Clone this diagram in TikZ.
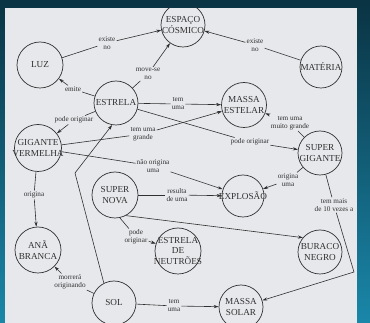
\documentclass[tikz,border=0pt]{standalone}
\usepackage{fontspec}
\setmainfont{Liberation Serif}
\usepackage{tikz}
\usetikzlibrary{arrows.meta}
\definecolor{paper}{HTML}{E7E8EC}
\definecolor{ink}{HTML}{303030}
\definecolor{frametop}{HTML}{0A3343}
\definecolor{framebot}{HTML}{1A87A9}
\tikzset{
  /tikz/.cd,
  concept/.style={circle,draw=ink,line width=.7pt,minimum size=44pt,inner sep=0pt},
  ctext/.style={text=ink,align=center,inner sep=0pt,font=\fontsize{9.2}{10.5}\selectfont}
}

\begin{document}
\begin{tikzpicture}[x=1pt,y=-1pt,
    link/.style={draw=ink,line width=.6pt},
    arr/.style={link,-{Stealth[length=5pt,width=3.2pt]}},
    lbl/.style={text=ink,align=center,inner sep=1pt,font=\fontsize{7.2}{8}\selectfont}]
  \useasboundingbox (0,0) rectangle (370,323);
  \shade[top color=frametop,bottom color=framebot] (0,0) rectangle (370,323);
  \fill[paper] (5,8) rectangle (357,323);

  \begin{scope}
  \clip (5,8) rectangle (357,323);
  % concepts
  \node[concept,label={[ctext]center:ESPAÇO\\CÓSMICO}] (espaco) at (183,25) {};
  \node[concept,minimum size=46pt,label={[ctext]center:LUZ}] (luz) at (40,65) {};
  \node[concept,minimum size=42pt,label={[ctext]center:MATÉRIA}] (materia) at (321,67) {};
  \node[concept,label={[ctext]center:ESTRELA}] (estrela) at (116,103) {};
  \node[concept,minimum size=45pt,label={[ctext]center:MASSA\\ESTELAR}] (massaE) at (244,105) {};
  \node[concept,minimum size=47pt,label={[ctext]center:GIGANTE\\VERMELHA}] (gigante) at (38,148) {};
  \node[concept,label={[ctext]center:SUPER\\GIGANTE}] (superG) at (320,153) {};
  \node[concept,minimum size=46pt,label={[ctext]center:SUPER\\NOVA}] (superN) at (115,195) {};
  \node[concept,minimum size=42pt,label={[ctext]center:EXPLOSÃO}] (explosao) at (243,196) {};
  \node[concept,minimum size=46pt,label={[ctext]center:ESTRELA\\DE\\NEUTRÕES}] (neutroes) at (178,251) {};
  \node[concept,label={[ctext]center:BURACO\\NEGRO}] (buraco) at (320,252) {};
  \node[concept,minimum size=46pt,label={[ctext]center:ANÃ\\BRANCA}] (ana) at (38,250) {};
  \node[concept,label={[ctext]center:SOL}] (sol) at (114,303) {};
  \node[concept,label={[ctext]center:MASSA\\SOLAR}] (massaS) at (241,307) {};

  % link words
  \node[lbl] (l1) at (107,43) {existe\\no};
  \node[lbl] (l2) at (255,45) {existe\\no};
  \node[lbl] (l3) at (148,74) {move-se\\no};
  \node[lbl] (l4) at (73,89) {emite};
  \node[lbl] (l5) at (178,104) {tem\\uma};
  \node[lbl] (l6) at (74,120) {pode originar};
  \node[lbl] (l7) at (143,134) {tem uma\\grande};
  \node[lbl] (l8) at (250,142) {pode originar};
  \node[lbl] (l9) at (290,123) {tem uma\\muito grande};
  \node[lbl] (l10) at (153,166) {não origina\\uma};
  \node[lbl] (l11) at (288,180) {origina\\uma};
  \node[lbl] (l12) at (177,195) {resulta\\de uma};
  \node[lbl] (l13) at (34,195) {origina};
  \node[lbl] (l14) at (136,237) {pode\\originar};
  \node[lbl] (l16) at (334,205) {tem mais\\de 10 vezes a};
  \node[lbl] (l18) at (70,282) {morrerá\\originando};
  \node[lbl] (l19) at (174,306) {tem\\uma};
  \coordinate (k1) at (354,272);
  \coordinate (k2) at (75,173);

  % links
  \draw[link] (luz) -- (l1); \draw[arr] (l1) -- (espaco);
  \draw[link] (materia) -- (l2); \draw[arr] (l2) -- (espaco);
  \draw[link] (estrela) -- (l3); \draw[arr] (l3) -- (espaco);
  \draw[link] (estrela) -- (l4); \draw[arr] (l4) -- (luz);
  \draw[link] (estrela) -- (l5); \draw[arr] (l5) -- (massaE);
  \draw[link] (estrela) -- (l6); \draw[arr] (l6) -- (gigante);
  \draw[link] (gigante) -- (l7); \draw[arr] (l7) -- (massaE);
  \draw[link] (estrela) -- (l8); \draw[arr] (l8) -- (superG);
  \draw[link] (superG) -- (l9); \draw[arr] (l9) -- (massaE);
  \draw[link] (gigante) -- (l10); \draw[arr] (l10) -- (explosao);
  \draw[link] (superG) -- (l11); \draw[arr] (l11) -- (explosao);
  \draw[link] (superN) -- (l12); \draw[arr] (l12) -- (explosao);
  \draw[link] (gigante) -- (l13); \draw[arr] (l13) -- (ana);
  \draw[link] (superN.-78) -- (l14); \draw[arr] (l14) -- (neutroes);
  \draw[arr] (superN.-62) -- (buraco.140);
  \draw[link] (superG) -- (l16); \draw[arr] (l16) -- (k1) -- (massaS);
  \draw[arr] (sol.117) -- (k2) -- (estrela.-100);
  \draw[link] (sol) -- (l18); \draw[arr] (l18) -- (ana);
  \draw[link] (sol) -- (l19); \draw[arr] (l19) -- (massaS);
  \end{scope}
\end{tikzpicture}
\end{document}
